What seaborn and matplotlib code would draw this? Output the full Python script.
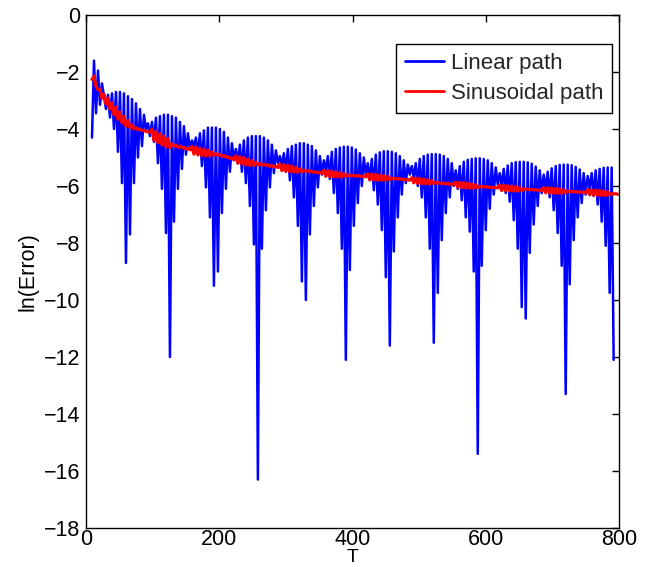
import matplotlib
matplotlib.use("Agg")
import matplotlib.pyplot as plt
import seaborn as sns
import pandas as pd

# ---------------- data ----------------
series_names = ["Linear path", "Sinusoidal path"]

linear_err = [
    -4.3, -1.6, -3.45, -1.95, -3.15, -2.4,
    -2.85, -3.3, -2.8, -3.6, -2.75, -4.0, -2.7, -4.8, -2.7, -5.9, -2.75, -8.7, -2.85, -7.7, -2.95, -5.9, -3.1, -5.0, -3.3, -4.6, -3.5, -4.0,
    -3.8, -4.25, -3.75, -4.45, -3.6, -5.2, -3.55, -6.1, -3.5, -7.65, -3.5, -12.0, -3.55, -7.25, -3.6, -6.1, -3.75, -5.4, -3.9, -4.9, -4.15, -4.7,
    -4.4, -4.6, -4.3, -4.9, -4.15, -5.3, -4.05, -6.05, -3.95, -7.1, -3.95, -9.5, -3.95, -9.0, -4.0, -6.95, -4.1, -6.1, -4.3, -5.5, -4.5, -5.1,
    -4.7, -5.2, -4.55, -5.5, -4.4, -5.9, -4.3, -6.7, -4.25, -8.05, -4.25, -16.3, -4.25, -8.2, -4.3, -6.85, -4.4, -6.05, -4.55, -5.55, -4.75, -5.2,
    -4.95, -5.3, -4.85, -5.5, -4.7, -5.8, -4.6, -6.4, -4.55, -7.4, -4.5, -9.35, -4.5, -10.0, -4.55, -7.7, -4.6, -6.7, -4.75, -6.05, -4.95, -5.6,
    -5.1, -5.45, -4.95, -5.75, -4.8, -6.25, -4.7, -6.95, -4.65, -8.2, -4.62, -12.1, -4.62, -8.95, -4.65, -7.4, -4.72, -6.6, -4.85, -6.0, -5.0, -5.6,
    -5.2, -5.8, -5.05, -6.15, -4.9, -6.65, -4.82, -7.55, -4.78, -9.2, -4.78, -11.6, -4.8, -8.3, -4.85, -7.1, -4.95, -6.3, -5.1, -5.9, -5.25, -5.6,
    -5.3, -5.7, -5.2, -6.0, -5.05, -6.4, -4.95, -7.1, -4.9, -8.2, -4.88, -11.5, -4.88, -9.75, -4.9, -7.9, -4.95, -6.95, -5.05, -6.4, -5.2, -6.0,
    -5.45, -6.1, -5.3, -6.5, -5.15, -7.1, -5.08, -7.6, -5.05, -9.0, -5.03, -15.4, -5.03, -8.8, -5.05, -7.55, -5.1, -6.8, -5.2, -6.3, -5.35, -5.95,
    -5.55, -6.0, -5.4, -6.25, -5.28, -6.55, -5.2, -7.2, -5.16, -8.2, -5.15, -10.25, -5.15, -10.65, -5.17, -8.35, -5.22, -7.35, -5.32, -6.7, -5.45, -6.25,
    -5.6, -6.15, -5.5, -6.4, -5.38, -6.85, -5.3, -7.65, -5.26, -8.8, -5.25, -13.3, -5.25, -9.45, -5.27, -7.9, -5.33, -7.1, -5.42, -6.6, -5.55, -6.3,
    -5.65, -6.1, -5.55, -6.35, -5.45, -6.65, -5.4, -7.25, -5.36, -8.1, -5.35, -9.75, -5.35, -12.1,
]
linear_T = list(range(9, 9 + 3 * len(linear_err), 3))

sinus_err = [
    -2.26, -2.14, -2.5, -2.62, -2.6, -2.92, -2.78, -3.12, -2.92, -3.3, -3.08, -3.5, -3.22, -3.66, -3.4,
    -3.78, -3.55, -3.9, -3.7, -3.95, -3.85, -4.0, -3.95, -4.02, -4.0, -4.05, -4.05, -4.08, -4.1, -4.12,
    -4.0, -4.4, -4.08, -4.48, -4.16, -4.56, -4.24, -4.62, -4.33, -4.66,
    -4.52, -4.6, -4.56, -4.64, -4.6, -4.66, -4.64, -4.7, -4.68, -4.73,
    -4.61, -4.88, -4.63, -4.91, -4.67, -4.94, -4.70, -4.95, -4.74, -4.95, -4.8, -4.92,
    -4.86, -4.92, -4.89, -4.95, -4.93, -4.99, -4.97, -5.03, -5.01, -5.07,
    -4.94, -5.2, -4.97, -5.23, -5.0, -5.26, -5.05, -5.28, -5.1, -5.28, -5.16, -5.26,
    -5.21, -5.26, -5.23, -5.28, -5.25, -5.31, -5.28, -5.33, -5.3, -5.35,
    -5.23, -5.46, -5.25, -5.48, -5.27, -5.5, -5.3, -5.51, -5.34, -5.52, -5.39, -5.5,
    -5.44, -5.49, -5.46, -5.5, -5.48, -5.52, -5.5, -5.54, -5.52, -5.56,
    -5.45, -5.66, -5.46, -5.67, -5.48, -5.68, -5.5, -5.69, -5.53, -5.69, -5.56, -5.67,
    -5.61, -5.64, -5.62, -5.65, -5.63, -5.66, -5.64, -5.67, -5.65, -5.68,
    -5.57, -5.78, -5.58, -5.79, -5.59, -5.8, -5.61, -5.8, -5.63, -5.8, -5.66, -5.78,
    -5.72, -5.75, -5.73, -5.76, -5.74, -5.77, -5.76, -5.79, -5.77, -5.8,
    -5.71, -5.89, -5.72, -5.91, -5.73, -5.92, -5.75, -5.93, -5.78, -5.93, -5.81, -5.92,
    -5.87, -5.9, -5.89, -5.91, -5.9, -5.93, -5.91, -5.94, -5.93, -5.95,
    -5.86, -6.04, -5.87, -6.06, -5.88, -6.07, -5.9, -6.08, -5.92, -6.08, -5.95, -6.06,
    -6.01, -6.03, -6.02, -6.04, -6.03, -6.05, -6.04, -6.06, -6.05, -6.07,
    -5.97, -6.16, -5.98, -6.17, -5.99, -6.17, -6.0, -6.18, -6.02, -6.18, -6.05, -6.16,
    -6.1, -6.12, -6.11, -6.13, -6.12, -6.14, -6.13, -6.15, -6.14, -6.16,
    -6.06, -6.24, -6.06, -6.25, -6.07, -6.25, -6.08, -6.26, -6.1, -6.26, -6.13, -6.23,
    -6.17, -6.2, -6.18, -6.21, -6.19, -6.22, -6.2, -6.23, -6.21, -6.24,
    -6.13, -6.31, -6.14, -6.32, -6.14, -6.33, -6.15, -6.33, -6.17, -6.34, -6.2, -6.31,
    -6.26, -6.28, -6.27, -6.29,
]
sinus_T = list(range(9, 9 + 3 * len(sinus_err), 3))

x_ticks = [0, 200, 400, 600, 800]
y_ticks = [0, -2, -4, -6, -8, -10, -12, -14, -16, -18]
x_label = "T"
y_label = "ln(Error)"

# ---------------- style ----------------
sns.set_theme(style="white")
plt.rcParams["font.family"] = ["Liberation Sans", "DejaVu Sans"]

W, H = 662, 567
fig = plt.figure(figsize=(W / 100, H / 100), dpi=100)
ax = fig.add_axes([86 / W, (H - 528) / H, 533 / W, 513 / H])

df_lin = pd.DataFrame({"T": linear_T, "err": linear_err})
df_sin = pd.DataFrame({"T": sinus_T, "err": sinus_err})

sns.lineplot(data=df_lin, x="T", y="err", color="#0000ff", linewidth=1.8,
             estimator=None, sort=False, ax=ax, label=series_names[0])
sns.lineplot(data=df_sin, x="T", y="err", color="#ff0000", linewidth=2.3,
             estimator=None, sort=False, ax=ax, label=series_names[1])

ax.set_xlim(0, 800)
ax.set_ylim(-18, 0)
ax.set_xticks(x_ticks)
ax.set_yticks(y_ticks)
ax.tick_params(direction="in", length=5, width=1, top=True, right=True,
               labelsize=15.5, colors="black")
ax.tick_params(axis="x", pad=0.5)
ax.tick_params(axis="y", pad=4)
for s in ax.spines.values():
    s.set_color("black")
    s.set_linewidth(1.0)
ax.set_xlabel(x_label, fontsize=14, color="black")
ax.set_ylabel(y_label, fontsize=15.5, labelpad=4, color="black")
ax.xaxis.set_label_coords(0.5, -(566.5 - 528) / 513)
ax.xaxis.label.set_va("bottom")
ax.grid(False)

leg = ax.legend(loc="upper right", bbox_to_anchor=(612 / W, (H - 44) / H),
                bbox_transform=fig.transFigure, fontsize=16, frameon=True,
                fancybox=False, shadow=False, framealpha=1, edgecolor="black",
                borderaxespad=0, borderpad=0.4, handlelength=1.75,
                handletextpad=0.3, labelspacing=0.4)
leg.get_frame().set_linewidth(1.0)
for line in leg.get_lines():
    line.set_linewidth(2.0)

fig.savefig("out.png", dpi=100)
